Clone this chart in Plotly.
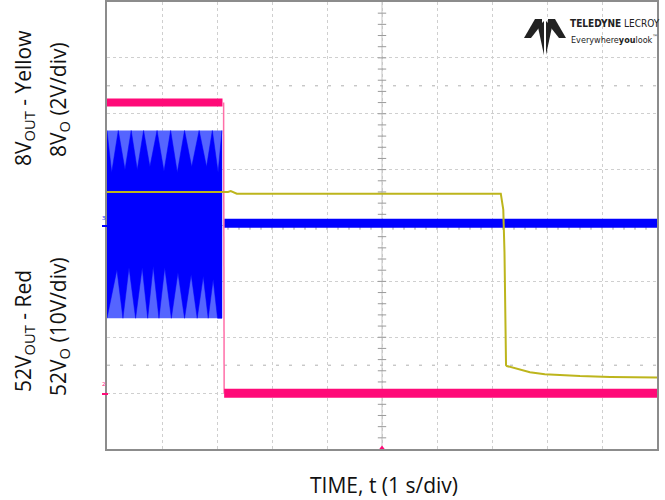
import numpy as np
import plotly.graph_objects as go

# ---------------- data ----------------
# time in seconds (1 s/div, 10 div)
red_t = [0.0, 2.10, 2.12, 2.13, 10.0]          # 52V_OUT (10 V/div)
red_v = [52.0, 52.0, 52.0, 0.0, 0.0]
RED_SCALE, RED_OFFSET = 10.0, -3.0              # V/div, ground position (div)

yel_t = [0.0, 2.20, 2.25, 2.36, 7.16, 7.205, 7.227, 7.255, 7.27, 7.40, 7.51, 7.69, 7.96, 8.60, 9.15, 10.0]
yel_v = [8.00, 8.00, 8.03, 7.94, 7.94, 7.37, 5.84, 1.80, 1.77, 1.71, 1.66, 1.55, 1.48, 1.41, 1.38, 1.36]
YEL_SCALE, YEL_OFFSET = 2.0, -3.4               # V/div, ground position (div)

# switching node (blue, in divisions) - envelope of the dense waveform
blue_env_t = [0.0, 2.09]
blue_env_hi = [1.70, 1.70]
blue_env_lo = [-1.66, -1.66]
blue_upper_t = [0.0, 0.085, 0.205, 0.327, 0.44, 0.55, 0.665, 0.78, 0.91, 1.036, 1.157,
                1.278, 1.41, 1.54, 1.675, 1.81, 1.915, 2.02, 2.09]
blue_upper_v = [1.70, 0.95, 1.70, 1.00, 1.70, 1.00, 1.70, 1.05, 1.70, 0.97, 1.70,
                0.95, 1.70, 1.05, 1.70, 1.05, 1.70, 0.95, 1.70]
blue_lower_t = [0.0, 0.18, 0.29, 0.40, 0.52, 0.64, 0.74, 0.84, 0.945, 1.05, 1.17,
                1.29, 1.41, 1.53, 1.64, 1.75, 1.84, 1.93, 2.01, 2.09]
blue_lower_v = [-1.66, -0.79, -1.66, -0.75, -1.66, -0.75, -1.66, -0.73, -1.66, -0.75, -1.66,
                -0.84, -1.66, -0.875, -1.66, -0.91, -1.66, -0.96, -1.66, -1.66]
blue_after_t = [2.13, 10.0]
blue_after_v = [0.04, 0.04]

RED = "#FF0A78"
YEL = "#BDB51C"
BLUE = "#0000FF"
LBLUE = "#5565FF"

red_div = [v / RED_SCALE + RED_OFFSET for v in red_v]
yel_div = [v / YEL_SCALE + YEL_OFFSET for v in yel_v]

fig = go.Figure()

# graticule centre lines with minor ticks
fig.add_trace(go.Scatter(x=[5, 5], y=[-4, 4], mode="lines",
                         line=dict(color="#c4c4c4", width=1), hoverinfo="skip", showlegend=False))
fig.add_trace(go.Scatter(x=[0, 10], y=[0, 0], mode="lines",
                         line=dict(color="#c4c4c4", width=1), hoverinfo="skip", showlegend=False))
mt = np.arange(0.2, 10, 0.2)
fig.add_trace(go.Scatter(x=mt, y=np.zeros_like(mt), mode="markers",
                         marker=dict(symbol="line-ns", size=6, line=dict(color="#9a9a9a", width=1)),
                         hoverinfo="skip", showlegend=False))
my = np.arange(-3.8, 4, 0.2)
fig.add_trace(go.Scatter(x=np.full_like(my, 5.0), y=my, mode="markers",
                         marker=dict(symbol="line-ew", size=6, line=dict(color="#9a9a9a", width=1)),
                         hoverinfo="skip", showlegend=False))
# dashed reference rows
for yy in (2.5, -2.5):
    fig.add_trace(go.Scatter(x=[0, 10], y=[yy, yy], mode="lines",
                             line=dict(color="#b0b0b0", width=1, dash="3px,10px"),
                             hoverinfo="skip", showlegend=False))

# blue: light envelope, dark core, after switching
fig.add_trace(go.Scatter(x=blue_env_t + blue_env_t[::-1], y=blue_env_hi + blue_env_lo[::-1],
                         fill="toself", fillcolor=LBLUE, mode="lines", line=dict(width=0, color=LBLUE),
                         hoverinfo="skip", showlegend=False))
fig.add_trace(go.Scatter(x=blue_upper_t + blue_lower_t[::-1], y=blue_upper_v + blue_lower_v[::-1],
                         fill="toself", fillcolor=BLUE, mode="lines", line=dict(width=0.5, color=BLUE),
                         hoverinfo="skip", showlegend=False))
fig.add_trace(go.Scatter(x=blue_after_t, y=blue_after_v, mode="lines",
                         line=dict(color=BLUE, width=9), hoverinfo="skip", showlegend=False))

# red
fig.add_trace(go.Scatter(x=red_t[:2], y=red_div[:2], mode="lines",
                         line=dict(color=RED, width=8), hoverinfo="skip", showlegend=False))
fig.add_trace(go.Scatter(x=red_t[2:4], y=red_div[2:4], mode="lines",
                         line=dict(color="#FF6FA8", width=1.5), hoverinfo="skip", showlegend=False))
fig.add_trace(go.Scatter(x=red_t[3:], y=red_div[3:], mode="lines",
                         line=dict(color=RED, width=9), hoverinfo="skip", showlegend=False))

# yellow
fig.add_trace(go.Scatter(x=yel_t, y=yel_div, mode="lines",
                         line=dict(color=YEL, width=2), hoverinfo="skip", showlegend=False))

# channel / trigger markers
fig.add_trace(go.Scatter(x=[5], y=[-4], mode="markers", cliponaxis=False,
                         marker=dict(symbol="triangle-up", size=7, color=RED),
                         hoverinfo="skip", showlegend=False))
fig.add_trace(go.Scatter(x=[10], y=[red_div[-1]], mode="markers", cliponaxis=False,
                         marker=dict(symbol="triangle-left", size=8, color=RED),
                         hoverinfo="skip", showlegend=False))

grid = dict(showgrid=True, gridcolor="#cfcfcf", griddash="dot", gridwidth=1,
            zeroline=False, showticklabels=False, ticks="",
            showline=True, linecolor="#8c8c8c", linewidth=1.5, mirror=True)

fig.update_layout(
    width=665, height=500,
    margin=dict(l=107, r=8, t=2, b=51, autoexpand=False),
    paper_bgcolor="white", plot_bgcolor="white",
    xaxis=dict(range=[0, 10], dtick=1, **grid),
    yaxis=dict(range=[-4, 4], dtick=1, **grid),
    font=dict(family="Open Sans, Lato, sans-serif", color="#111111"),
    showlegend=False,
)

def px(x, y):
    return (x - 107) / 550.0, (449 - y) / 447.0

ann = []
def text(x, y, s, size, angle=0, font=None, xanchor="center"):
    ax, ay = px(x, y)
    f = dict(size=size)
    if font:
        f.update(font)
    ann.append(dict(x=ax, y=ay, xref="paper", yref="paper", text=s, showarrow=False,
                    xanchor=xanchor, yanchor="middle", textangle=angle, font=f))

text(384, 485, "TIME, t (1 s/div)", 21)
text(24, 98, "8V<sub>OUT</sub> - Yellow", 21, angle=-90)
text(59, 99, "8V<sub>O</sub> (2V/div)", 21, angle=-90)
text(24, 331, "52V<sub>OUT</sub> - Red", 21, angle=-90)
text(59, 326, "52V<sub>O</sub> (10V/div)", 21, angle=-90)
# channel tags
text(104, 218, "3", 6, font=dict(color=BLUE))
text(104, 384, "2", 6, font=dict(color=RED))
# logo text
NARROW = "DejaVu Sans Condensed, Liberation Sans Narrow, Arial Narrow, sans-serif"
text(568, 23, "<b>TELEDYNE</b> LECROY", 10, font=dict(family=NARROW, color="#222"), xanchor="left")
text(569, 39, "Everywhere<b>you</b>look<sup>™</sup>", 9, font=dict(family=NARROW, color="#222"),
     xanchor="left")
fig.update_layout(annotations=ann)

# logo mark and channel ticks (decoration in paper coordinates)
def path(pts):
    s = "M " + " L ".join(f"{px(a, b)[0]:.4f},{px(a, b)[1]:.4f}" for a, b in pts) + " Z"
    return s

logo = [
    [(524, 38), (535, 19), (542, 19), (542, 24), (531, 38)],
    [(566, 38), (555, 19), (548, 19), (548, 24), (559, 38)],
    [(538, 27), (544, 21), (544, 55)],
    [(552, 27), (546, 21), (546, 55)],
]
shapes = [dict(type="path", path=path(p), xref="paper", yref="paper",
               fillcolor="#222222", line=dict(width=0)) for p in logo]
shapes.append(dict(type="line", xref="paper", yref="paper",
                   x0=px(102, 226)[0], x1=px(108, 226)[0], y0=px(102, 226)[1], y1=px(102, 226)[1],
                   line=dict(color=BLUE, width=2)))
shapes.append(dict(type="line", xref="paper", yref="paper",
                   x0=px(102, 394)[0], x1=px(108, 394)[0], y0=px(102, 394)[1], y1=px(102, 394)[1],
                   line=dict(color=RED, width=2)))
fig.update_layout(shapes=shapes)

fig.write_html("out.html", config={"displayModeBar": False},
               post_script="document.body.style.margin='0';document.body.style.padding='0';")
